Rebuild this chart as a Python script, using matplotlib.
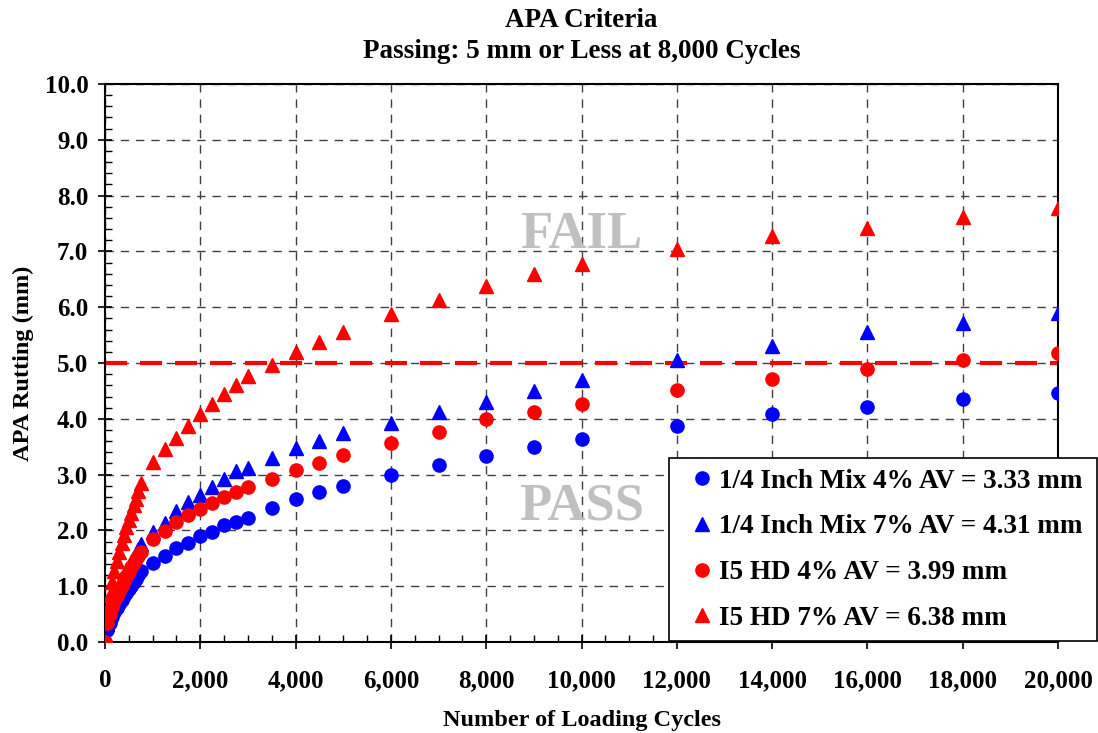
import matplotlib.pyplot as plt
from matplotlib.ticker import MultipleLocator, FuncFormatter

plt.rcParams['font.family'] = ['Liberation Serif', 'DejaVu Serif']
plt.rcParams['font.weight'] = 'bold'

# loading cycles
cycles = [0, 50, 100, 150, 200, 250, 300, 350, 400, 450, 500, 550, 600, 650, 700, 750,
          1000, 1250, 1500, 1750, 2000, 2250, 2500, 2750, 3000,
          3500, 4000, 4500, 5000, 6000, 7000, 8000, 9000, 10000,
          12000, 14000, 16000, 18000, 20000]

# 1/4 Inch Mix 4% AV
mix_4 = [0, 0.22, 0.34, 0.44, 0.53, 0.61, 0.68, 0.75, 0.82, 0.88, 0.95, 1.01, 1.07, 1.13, 1.20, 1.28,
         1.42, 1.54, 1.68, 1.78, 1.90, 1.97, 2.09, 2.15, 2.23,
         2.41, 2.56, 2.69, 2.80, 3.00, 3.17, 3.33, 3.50, 3.63,
         3.87, 4.08, 4.22, 4.35, 4.46]
# 1/4 Inch Mix 7% AV
mix_7 = [0, 0.32, 0.50, 0.64, 0.76, 0.87, 0.97, 1.07, 1.16, 1.25, 1.34, 1.42, 1.50, 1.58, 1.66, 1.75,
         1.97, 2.13, 2.35, 2.51, 2.64, 2.78, 2.93, 3.06, 3.12,
         3.30, 3.47, 3.60, 3.74, 3.93, 4.12, 4.31, 4.50, 4.70,
         5.05, 5.30, 5.55, 5.72, 5.90]
# I5 HD 4% AV
hd_4 = [0, 0.35, 0.50, 0.62, 0.73, 0.83, 0.92, 1.01, 1.10, 1.18, 1.26, 1.34, 1.41, 1.48, 1.55, 1.62,
        1.84, 1.99, 2.15, 2.27, 2.39, 2.49, 2.60, 2.69, 2.78,
        2.93, 3.08, 3.21, 3.35, 3.57, 3.77, 3.99, 4.12, 4.27,
        4.52, 4.72, 4.90, 5.05, 5.18]
# I5 HD 7% AV
hd_7 = [0, 0.55, 0.85, 1.08, 1.28, 1.45, 1.62, 1.78, 1.92, 2.06, 2.19, 2.32, 2.45, 2.57, 2.70, 2.85,
        3.23, 3.46, 3.66, 3.88, 4.09, 4.27, 4.45, 4.60, 4.77,
        4.97, 5.20, 5.37, 5.55, 5.87, 6.13, 6.38, 6.60, 6.78,
        7.05, 7.27, 7.42, 7.62, 7.78]

labels = ['1/4 Inch Mix 4% AV = 3.33 mm', '1/4 Inch Mix 7% AV = 4.31 mm',
          'I5 HD 4% AV = 3.99 mm', 'I5 HD 7% AV = 6.38 mm']
criterion = 5.0

fig = plt.figure(figsize=(10.98, 7.33), dpi=100)
ax = fig.add_axes([0.0956, 0.1241, 0.868, 0.7613])

ax.plot(cycles, mix_4, 'o', color='#0000ff', markersize=9.5, label=labels[0], zorder=3)
ax.plot(cycles, mix_7, '^', color='#0000ff', markersize=9.5, label=labels[1], zorder=3)
ax.plot(cycles, hd_4, 'o', color='#ff0000', markersize=9.5, label=labels[2], zorder=3)
ax.plot(cycles, hd_7, '^', color='#ff0000', markersize=9.5, label=labels[3], zorder=3)

# 5 mm pass/fail line
ax.axhline(criterion, color='#ff0000', linewidth=3, dashes=(5.3, 3.1), zorder=2)

ax.text(10000, 7.3, 'FAIL', color='#c0c0c0', fontsize=38, ha='center', va='center', zorder=1)
ax.text(10000, 2.42, 'PASS', color='#c0c0c0', fontsize=38, ha='center', va='center', zorder=1)

ax.set_xlim(0, 20000)
ax.set_ylim(0, 10)
ax.xaxis.set_major_locator(MultipleLocator(2000))
ax.xaxis.set_minor_locator(MultipleLocator(500))
ax.yaxis.set_major_locator(MultipleLocator(1))
ax.yaxis.set_minor_locator(MultipleLocator(0.2))
ax.xaxis.set_major_formatter(FuncFormatter(lambda v, p: f'{v:,.0f}'))
ax.yaxis.set_major_formatter(FuncFormatter(lambda v, p: f'{v:.1f}'))
ax.tick_params(axis='both', which='major', direction='inout', length=10, width=1.2, labelsize=18)
ax.tick_params(axis='x', which='major', pad=14.5)
ax.tick_params(axis='y', which='major', pad=7)
ax.tick_params(axis='both', which='minor', direction='in', length=5, width=1)
for lab in ax.get_xticklabels() + ax.get_yticklabels():
    lab.set_fontweight('bold')

ax.grid(True, which='major', color='#404040', linestyle=(0, (6, 5)), linewidth=1)
ax.set_axisbelow(True)
for s in ax.spines.values():
    s.set_linewidth(1.5)

ax.set_xlabel('Number of Loading Cycles', fontsize=17.5, fontweight='bold', labelpad=13)
ax.set_ylabel('APA Rutting (mm)', fontsize=17.5, fontweight='bold', labelpad=7.5)
ax.set_title('APA Criteria\nPassing: 5 mm or Less at 8,000 Cycles', fontsize=19.5,
             fontweight='bold', pad=18.5, linespacing=1.31)

leg = ax.legend(loc='upper left', bbox_to_anchor=(669 / 1098, 1 - 458 / 733, 428 / 1098, 0),
                bbox_transform=fig.transFigure, mode='expand', borderaxespad=0,
                fancybox=False, framealpha=1, edgecolor='black',
                prop={'weight': 'bold', 'size': 19.5},
                handlelength=1.6, handletextpad=-0.15, labelspacing=0.76, borderpad=0.4)
leg.get_frame().set_linewidth(1.2)
leg.set_zorder(5)

plt.savefig('out.png', dpi=100)
